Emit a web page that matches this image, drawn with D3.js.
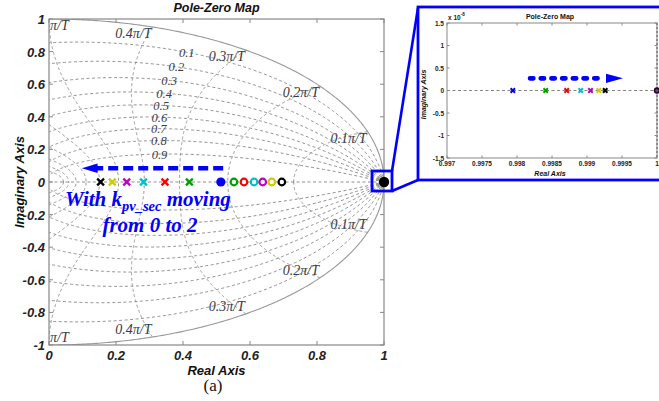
<!DOCTYPE html>
<html><head><meta charset="utf-8">
<script src="https://cdn.jsdelivr.net/npm/d3@7"></script>
<style>body{margin:0;background:#fff}svg{display:block}</style>
</head><body>
<svg id="c" width="659" height="401"></svg>
<script>
// ---------- data ----------
const xTicks = [0, 0.2, 0.4, 0.6, 0.8, 1];
const xTickLabels = ["0", "0.2", "0.4", "0.6", "0.8", "1"];
const yTicks = [-1, -0.8, -0.6, -0.4, -0.2, 0, 0.2, 0.4, 0.6, 0.8, 1];
const yTickLabels = ["-1", "-0.8", "-0.6", "-0.4", "-0.2", "0", "0.2", "0.4", "0.6", "0.8", "1"];
const dampingValues = [0.1, 0.2, 0.3, 0.4, 0.5, 0.6, 0.7, 0.8, 0.9];
const dampingLabels = ["0.1", "0.2", "0.3", "0.4", "0.5", "0.6", "0.7", "0.8", "0.9"];
const freqValues = [0.1, 0.2, 0.3, 0.4, 0.5, 0.6, 0.7, 0.8, 0.9, 1.0]; // × π/T
const freqLabelValues = [0.1, 0.2, 0.3, 0.4];
const freqLabels = ["0.1π/T", "0.2π/T", "0.3π/T", "0.4π/T"];
const seriesNames = ["blue", "green", "red", "cyan", "magenta", "yellow", "black"];
const seriesColors = ["#0000ff", "#00a000", "#ff0000", "#00c0c0", "#c000c0", "#cccc00", "#000000"];
const polesMovingLeft = [0.513, 0.419, 0.346, 0.282, 0.232, 0.189, 0.154];   // × markers
const polesMovingRight = [0.513, 0.552, 0.582, 0.612, 0.638, 0.665, 0.695];  // o markers
const polesNearOne = [0.99794, 0.99841, 0.99871, 0.99891, 0.99905, 0.99917, 0.99926];
const fixedPole = 1.0;
const insetXTicks = [0.997, 0.9975, 0.998, 0.9985, 0.999, 0.9995, 1];
const insetXTickLabels = ["0.997", "0.9975", "0.998", "0.9985", "0.999", "0.9995", "1"];
const insetYTicks = [-1.5, -1, -0.5, 0, 0.5, 1, 1.5];
const insetYTickLabels = ["-1.5", "-1", "-0.5", "0", "0.5", "1", "1.5"];

// ---------- setup ----------
const svg = d3.select("#c");
svg.append("rect").attr("width", 659).attr("height", 401).attr("fill", "#fff");

const L = 49, R = 384, T = 19, B = 345;
const x = d3.scaleLinear().domain([0, 1]).range([L, R]);
const y = d3.scaleLinear().domain([-1, 1]).range([B, T]);
const sans = "'Liberation Sans', Arial, sans-serif";
const serif = "'Liberation Serif', 'Times New Roman', serif";
const gridCol = "#858585";

svg.append("clipPath").attr("id", "clipMain").append("rect")
  .attr("x", L).attr("y", T).attr("width", R - L).attr("height", B - T);

const gGrid = svg.append("g").attr("clip-path", "url(#clipMain)");
const line = d3.line().x(d => x(d[0])).y(d => y(d[1]));
const mirror = pts => pts.map(p => [p[0], -p[1]]);

// damping (zeta) curves
dampingValues.forEach(z => {
  const m = z / Math.sqrt(1 - z * z);
  const pts = d3.range(0, Math.PI + 1e-9, Math.PI / 500).map(p => [Math.exp(-m * p) * Math.cos(p), Math.exp(-m * p) * Math.sin(p)]);
  [pts, mirror(pts)].forEach(pp => gGrid.append("path").attr("d", line(pp))
    .attr("fill", "none").attr("stroke", gridCol).attr("stroke-width", 0.9).attr("stroke-dasharray", "3,2.5"));
});
// natural frequency curves
freqValues.forEach(w => {
  const th = w * Math.PI;
  const pts = d3.range(0, 1.00001, 0.002).map(z => {
    const r = Math.exp(-z * th), a = th * Math.sqrt(Math.max(0, 1 - z * z));
    return [r * Math.cos(a), r * Math.sin(a)];
  });
  [pts, mirror(pts)].forEach(pp => gGrid.append("path").attr("d", line(pp))
    .attr("fill", "none").attr("stroke", gridCol).attr("stroke-width", 0.9).attr("stroke-dasharray", "3,2.5"));
});
// real axis dashed
gGrid.append("path").attr("d", line([[0, 0], [1, 0]]))
  .attr("stroke", gridCol).attr("stroke-width", 0.9).attr("stroke-dasharray", "3,2.5");
// unit circle
const circ = d3.range(-Math.PI / 2, Math.PI / 2 + 1e-9, Math.PI / 400).map(a => [Math.cos(a), Math.sin(a)]);
gGrid.append("path").attr("d", line(circ)).attr("fill", "none").attr("stroke", "#999").attr("stroke-width", 1.1);

// grid labels
const labCol = "#363c4a";
dampingValues.forEach((z, i) => {
  const th = 0.35 * Math.PI, r = Math.exp(-z * th), a = th * Math.sqrt(1 - z * z);
  svg.append("text").attr("x", x(r * Math.cos(a))).attr("y", y(r * Math.sin(a)) + 4.5)
    .attr("text-anchor", "middle").attr("font-family", serif).attr("font-style", "italic")
    .attr("font-size", 12.5).attr("fill", labCol).text(dampingLabels[i]);
});
freqLabelValues.forEach((w, i) => {
  const a = w * Math.PI;
  [1, -1].forEach(s => {
    svg.append("text").attr("x", x(Math.cos(a)) - 1)
      .attr("y", s > 0 ? y(Math.sin(a)) + 11 : y(-Math.sin(a)) - 3)
      .attr("text-anchor", "end").attr("font-family", serif).attr("font-style", "italic")
      .attr("font-size", 14).attr("fill", labCol).text(freqLabels[i]);
  });
});
[1, -1].forEach(s => {
  svg.append("text").attr("x", x(0) + 1).attr("y", s > 0 ? y(1) + 11 : y(-1) - 3)
    .attr("font-family", serif).attr("font-style", "italic").attr("font-size", 14)
    .attr("fill", labCol).text("π/T");
});

// axes frame + ticks
const frameCol = "#888";
svg.append("rect").attr("x", L).attr("y", T).attr("width", R - L).attr("height", B - T)
  .attr("fill", "none").attr("stroke", frameCol).attr("stroke-width", 1.2);
xTicks.forEach((t, i) => {
  svg.append("line").attr("x1", x(t)).attr("x2", x(t)).attr("y1", B).attr("y2", B - 4).attr("stroke", frameCol);
  svg.append("line").attr("x1", x(t)).attr("x2", x(t)).attr("y1", T).attr("y2", T + 4).attr("stroke", frameCol);
  svg.append("text").attr("x", x(t)).attr("y", B + 15).attr("text-anchor", "middle")
    .attr("font-family", sans).attr("font-weight", "bold").attr("font-style", "italic")
    .attr("font-size", 13).attr("fill", "#222").text(xTickLabels[i]);
});
yTicks.forEach((t, i) => {
  svg.append("line").attr("x1", L).attr("x2", L + 4).attr("y1", y(t)).attr("y2", y(t)).attr("stroke", frameCol);
  svg.append("line").attr("x1", R).attr("x2", R - 4).attr("y1", y(t)).attr("y2", y(t)).attr("stroke", frameCol);
  svg.append("text").attr("x", L - 4).attr("y", y(t) + 5).attr("text-anchor", "end")
    .attr("font-family", sans).attr("font-weight", "bold").attr("font-style", "italic")
    .attr("font-size", 13).attr("fill", "#222").text(yTickLabels[i]);
});
svg.append("text").attr("x", (L + R) / 2).attr("y", 12).attr("text-anchor", "middle")
  .attr("font-family", sans).attr("font-weight", "bold").attr("font-style", "italic")
  .attr("font-size", 12.5).attr("fill", "#111").text("Pole-Zero Map");
svg.append("text").attr("x", (L + R) / 2).attr("y", 375).attr("text-anchor", "middle")
  .attr("font-family", sans).attr("font-weight", "bold").attr("font-style", "italic")
  .attr("font-size", 13).attr("fill", "#111").text("Real Axis");
svg.append("text").attr("transform", `translate(24,${(T + B) / 2}) rotate(-90)`).attr("text-anchor", "middle")
  .attr("font-family", sans).attr("font-weight", "bold").attr("font-style", "italic")
  .attr("font-size", 13).attr("fill", "#111").text("Imaginary Axis");
svg.append("text").attr("x", 213).attr("y", 391).attr("text-anchor", "middle")
  .attr("font-family", serif).attr("font-size", 17).attr("fill", "#111").text("(a)");

// markers
const xMark = s => `M${-s},${-s}L${s},${s}M${-s},${s}L${s},${-s}`;
const gM = svg.append("g");
polesNearOne.forEach((p, i) => gM.append("path").attr("d", xMark(2)).attr("transform", `translate(${x(p)},${y(0)})`)
  .attr("stroke", seriesColors[i]).attr("stroke-width", 1.5).attr("fill", "none"));
gM.append("circle").attr("cx", x(fixedPole)).attr("cy", y(0)).attr("r", 5.2).attr("fill", "#000");
polesMovingLeft.forEach((p, i) => {
  if (i === 0) return;
  gM.append("path").attr("d", xMark(3.4)).attr("transform", `translate(${x(p)},${y(0)})`)
    .attr("stroke", seriesColors[i]).attr("stroke-width", 2.3).attr("fill", "none");
});
polesMovingRight.forEach((p, i) => {
  if (i === 0) return;
  gM.append("circle").attr("cx", x(p)).attr("cy", y(0)).attr("r", 3.3)
    .attr("stroke", seriesColors[i]).attr("stroke-width", 2.2).attr("fill", "#fff");
});
gM.append("circle").attr("cx", x(polesMovingLeft[0])).attr("cy", y(0)).attr("r", 4.6).attr("fill", seriesColors[0]);

// main arrow
const blue = "#0000ff";
svg.append("line").attr("x1", x(0.52)).attr("x2", x(0.142)).attr("y1", y(0.084)).attr("y2", y(0.084))
  .attr("stroke", blue).attr("stroke-width", 4.5).attr("stroke-dasharray", "10,5");
svg.append("path").attr("d", `M${x(0.098)},${y(0.084)}L${x(0.145)},${y(0.084) - 4.8}L${x(0.145)},${y(0.084) + 4.8}Z`).attr("fill", blue);

// annotation text
const ann = svg.append("text").attr("x", 65).attr("y", 206).attr("font-family", serif)
  .attr("font-weight", "bold").attr("font-style", "italic").attr("font-size", 21).attr("fill", blue);
ann.append("tspan").text("With k");
ann.append("tspan").attr("font-size", 14.5).attr("dy", 5).text("pv_sec");
ann.append("tspan").attr("dy", -5).text(" moving");
svg.append("text").attr("x", 150).attr("y", 232).attr("text-anchor", "middle").attr("font-family", serif)
  .attr("font-weight", "bold").attr("font-style", "italic").attr("font-size", 21).attr("fill", blue).text("from 0 to 2");

// zoom box + connectors
svg.append("rect").attr("x", 372).attr("y", 171).attr("width", 20).attr("height", 20)
  .attr("fill", "none").attr("stroke", blue).attr("stroke-width", 2.8);
svg.append("line").attr("x1", 392).attr("y1", 171).attr("x2", 418).attr("y2", 8).attr("stroke", blue).attr("stroke-width", 2.6);
svg.append("line").attr("x1", 392).attr("y1", 191).attr("x2", 418).attr("y2", 180).attr("stroke", blue).attr("stroke-width", 2.6);

// ---------- inset ----------
const iL = 447, iR = 657, iT = 23, iB = 158;
svg.append("rect").attr("x", 418).attr("y", 7).attr("width", 243).attr("height", 173)
  .attr("fill", "#fff").attr("stroke", blue).attr("stroke-width", 2.8);
const ix = d3.scaleLinear().domain([0.997, 1]).range([iL, iR]);
const iy = d3.scaleLinear().domain([-1.5, 1.5]).range([iB, iT]);
svg.append("line").attr("x1", ix(0.997)).attr("x2", ix(1)).attr("y1", iy(0)).attr("y2", iy(0))
  .attr("stroke", "#777").attr("stroke-width", 0.9).attr("stroke-dasharray", "3,2.5");
svg.append("rect").attr("x", iL).attr("y", iT).attr("width", iR - iL).attr("height", iB - iT)
  .attr("fill", "none").attr("stroke", "#888").attr("stroke-width", 1);
svg.append("line").attr("x1", iR).attr("x2", iR).attr("y1", iT).attr("y2", iB)
  .attr("stroke", "#666").attr("stroke-width", 1.2).attr("stroke-dasharray", "2,2");
insetXTicks.forEach((t, i) => {
  svg.append("line").attr("x1", ix(t)).attr("x2", ix(t)).attr("y1", iB).attr("y2", iB - 2.5).attr("stroke", "#888");
  svg.append("line").attr("x1", ix(t)).attr("x2", ix(t)).attr("y1", iT).attr("y2", iT + 2.5).attr("stroke", "#888");
  svg.append("text").attr("x", ix(t)).attr("y", iB + 8).attr("text-anchor", "middle")
    .attr("font-family", sans).attr("font-weight", "bold").attr("font-size", 6.5).attr("fill", "#222").text(insetXTickLabels[i]);
});
insetYTicks.forEach((t, i) => {
  svg.append("line").attr("x1", iL).attr("x2", iL + 2.5).attr("y1", iy(t)).attr("y2", iy(t)).attr("stroke", "#888");
  svg.append("line").attr("x1", iR).attr("x2", iR - 2.5).attr("y1", iy(t)).attr("y2", iy(t)).attr("stroke", "#888");
  svg.append("text").attr("x", iL - 3).attr("y", iy(t) + 2.5).attr("text-anchor", "end")
    .attr("font-family", sans).attr("font-weight", "bold").attr("font-size", 6.5).attr("fill", "#222").text(insetYTickLabels[i]);
});
const ex = svg.append("text").attr("x", iL + 1).attr("y", 20).attr("font-family", sans)
  .attr("font-weight", "bold").attr("font-size", 6.5).attr("fill", "#222");
ex.append("tspan").text("x 10");
ex.append("tspan").attr("font-size", 4.5).attr("dy", -4).text("-8");
svg.append("text").attr("x", (iL + iR) / 2 - 2).attr("y", 19).attr("text-anchor", "middle")
  .attr("font-family", sans).attr("font-weight", "bold").attr("font-size", 7).attr("fill", "#111").text("Pole-Zero Map");
svg.append("text").attr("x", (iL + iR) / 2 - 2).attr("y", 176).attr("text-anchor", "middle")
  .attr("font-family", sans).attr("font-weight", "bold").attr("font-style", "italic").attr("font-size", 7).attr("fill", "#111").text("Real Axis");
svg.append("text").attr("transform", `translate(426,${(iT + iB) / 2 + 4}) rotate(-90)`).attr("text-anchor", "middle")
  .attr("font-family", sans).attr("font-weight", "bold").attr("font-style", "italic").attr("font-size", 7).attr("fill", "#111").text("Imaginary Axis");

polesNearOne.forEach((p, i) => {
  svg.append("path").attr("d", xMark(2.2)).attr("transform", `translate(${ix(p)},${iy(0)})`)
    .attr("stroke", seriesColors[i]).attr("stroke-width", 2).attr("fill", "none");
});
svg.append("circle").attr("cx", ix(fixedPole)).attr("cy", iy(0)).attr("r", 2.4)
  .attr("stroke", "#300030").attr("stroke-width", 1.6).attr("fill", "#555");

// inset arrow
svg.append("line").attr("x1", 530).attr("x2", 603).attr("y1", iy(0.27)).attr("y2", iy(0.27))
  .attr("stroke", blue).attr("stroke-width", 4.6).attr("stroke-linecap", "round").attr("stroke-dasharray", "3.4,7.3");
svg.append("path").attr("d", `M623,${iy(0.27)}L606,${iy(0.27) - 4.6}L606,${iy(0.27) + 4.6}Z`).attr("fill", blue);
</script>
</body></html>
